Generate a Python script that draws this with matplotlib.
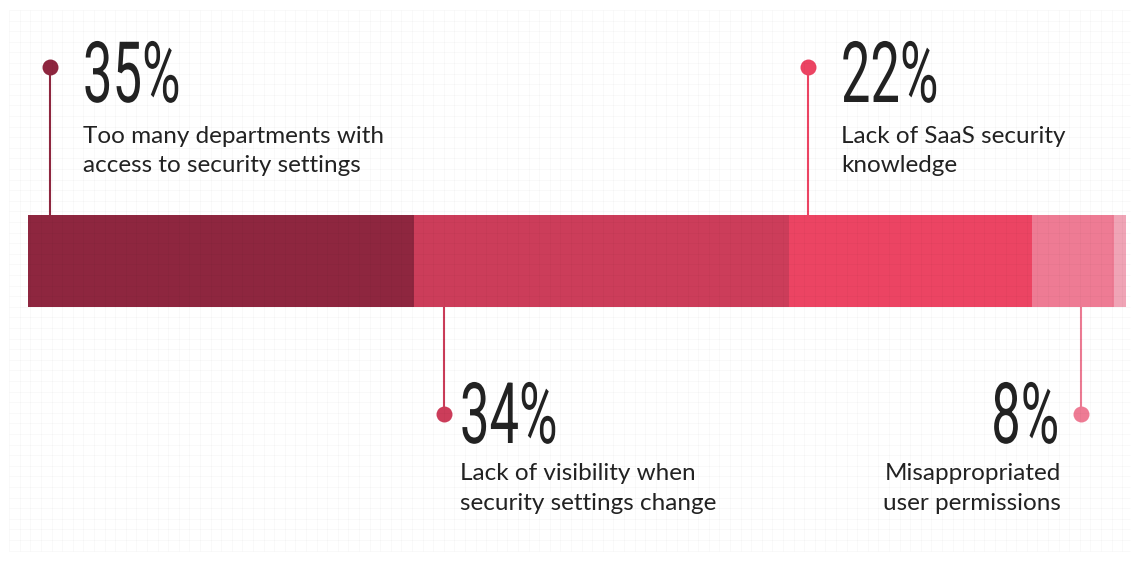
import numpy as np
import matplotlib
matplotlib.use('Agg')
import matplotlib.pyplot as plt
from matplotlib.patheffects import AbstractPathEffect
from matplotlib.transforms import Affine2D

# Segment widths (percent), left to right
values = [35.2, 34.1, 22.1, 7.5, 1.1]
pct_labels = ['35%', '34%', '22%', '8%', None]
descriptions = [
    ['Too many departments with', 'access to security settings'],
    ['Lack of visibility when', 'security settings change'],
    ['Lack of SaaS security', 'knowledge'],
    ['Misappropriated', 'user permissions'],
    None,
]
colors = ['#8E263F', '#CC3D5A', '#EC4463', '#EE7B94', '#F0A4B6']

# callout layout: side, offset of stem from segment start (px), text side
callout_side = ['top', 'bottom', 'top', 'bottom', None]
stem_offset_px = [22, 30, 19, 49, 0]
text_gap_px = [33, 15.5, 33, -20, 0]

W, H = 1138, 562
BAR_X0, BAR_X1 = 28, 1126
PX = (BAR_X1 - BAR_X0) / 100.0  # pixels per percent


class Squeeze(AbstractPathEffect):
    """Horizontally condense text glyphs (no condensed face installed)."""
    def __init__(self, sx, anchor='left'):
        super().__init__()
        self.sx = sx
        self.anchor = anchor

    def draw_path(self, renderer, gc, tpath, affine, rgbFace=None):
        a = tpath.get_extents().x1 if self.anchor == 'right' else 0
        t = Affine2D().translate(-a, 0).scale(self.sx, 1).translate(a, 0) + affine
        renderer.draw_path(gc, tpath, t, rgbFace)


fig = plt.figure(figsize=(W / 100, H / 100), dpi=100)
fig.patch.set_facecolor('white')
ax = fig.add_axes([0, 0, 1, 1])
ax.set_xlim(-BAR_X0 / PX, (W - BAR_X0) / PX)
ax.set_ylim(H, 0)
ax.axis('off')

bar_top, bar_bot = 215, 307
bar_c, bar_h = (bar_top + bar_bot) / 2, bar_bot - bar_top

starts = np.concatenate([[0], np.cumsum(values)[:-1]])
ax.barh(bar_c, values, left=starts, height=bar_h, color=colors, linewidth=0, zorder=2)

num_font = dict(family='Roboto', fontsize=61, color='#222222')
txt_font = dict(family='Lato', fontsize=17.5, color='#222222')

for i, v in enumerate(values):
    if callout_side[i] is None:
        continue
    sx = starts[i] + stem_offset_px[i] / PX
    if callout_side[i] == 'top':
        dot_y, y0, y1 = 67, 67, bar_top
        num_y, l1_y, l2_y = 102, 143, 172.5
    else:
        dot_y, y0, y1 = 414, bar_bot, 414
        num_y, l1_y, l2_y = 443, 480, 510
    ax.plot([sx, sx], [y0, y1], color=colors[i], lw=1.5, zorder=3, solid_capstyle='butt')
    ax.plot(sx, dot_y, 'o', ms=11.5, color=colors[i], mec='none', zorder=4)
    tx = sx + text_gap_px[i] / PX
    ha = 'left' if text_gap_px[i] > 0 else 'right'
    ax.text(tx, num_y, pct_labels[i], ha=ha, va='baseline', zorder=5,
            path_effects=[Squeeze(0.62, ha)], **num_font)
    ax.text(tx, l1_y, descriptions[i][0], ha=ha, va='baseline', zorder=5, **txt_font)
    ax.text(tx, l2_y, descriptions[i][1], ha=ha, va='baseline', zorder=5, **txt_font)

# faint background grid (drawn over everything, very light)
gx = (np.arange(9.3, 1132, 10.6) - BAR_X0) / PX
gy = np.arange(10, 553, 10.6)
ax.vlines(gx, 10, 551, color='black', alpha=0.025, lw=0.75, zorder=10)
ax.hlines(gy, (9.3 - BAR_X0) / PX, (1130 - BAR_X0) / PX, color='black', alpha=0.025, lw=0.75, zorder=10)

fig.savefig('out.png', dpi=100, facecolor='white')
